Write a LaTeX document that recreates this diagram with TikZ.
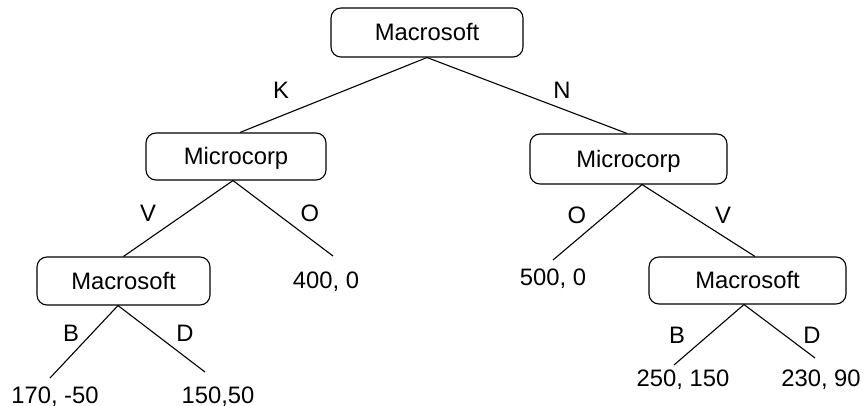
\documentclass[tikz,border=0pt]{standalone}
\usepackage{fontspec}
\setmainfont{Liberation Sans}
\begin{document}
\begin{tikzpicture}[x=0.5pt,y=-0.5pt,
  txt/.style={font=\fontsize{11.9}{14}\selectfont, text height=8.5pt, text depth=0pt, inner sep=0pt},
  player/.style={txt, draw, line width=0.55pt, rounded corners=5pt},
  leaf/.style={txt},
  branch/.style={txt},
  edge/.style={line width=0.55pt}]
\useasboundingbox (0,0) rectangle (868,406);

% decision nodes
\node[player, minimum width=96pt,   minimum height=24.5pt] (root) at (427,32.5)  {Macrosoft};
\node[player, minimum width=90pt,   minimum height=23.5pt] (lmc)  at (236,156.5) {Microcorp};
\node[player, minimum width=98.5pt, minimum height=25pt]   (rmc)  at (628.5,159) {Microcorp};
\node[player, minimum width=86.5pt, minimum height=24pt]   (lms)  at (123.5,281) {Macrosoft};
\node[player, minimum width=98.5pt, minimum height=23.5pt] (rms)  at (747.5,280.5) {Macrosoft};

% payoffs
\node[leaf] (l1) at (55,395)  {170, -50};
\node[leaf] (l2) at (218,395) {150,50};
\node[leaf] (l3) at (326,280) {400, 0};
\node[leaf] (l4) at (553,277) {500, 0};
\node[leaf] (l5) at (683,378) {250, 150};
\node[leaf] (l6) at (821,378) {230, 90};

% branches
\draw[edge] (root.south) -- ([xshift=2pt]lmc.north);
\draw[edge] (root.south) -- ([xshift=-0.75pt]rmc.north);
\draw[edge] ([xshift=-1.5pt]lmc.south) -- (lms.north);
\draw[edge] ([xshift=-1.5pt]lmc.south) -- ([xshift=3.5pt,yshift=12pt]l3.center);
\draw[edge] ([xshift=6.75pt]rmc.south) -- ([yshift=8.5pt]l4.center);
\draw[edge] ([xshift=6.75pt]rmc.south) -- ([xshift=3.75pt]rms.north);
\draw[edge] ([xshift=-2.75pt]lms.south) -- ([xshift=-2.5pt,yshift=8.5pt]l1.center);
\draw[edge] ([xshift=-2.75pt]lms.south) -- ([xshift=-6.5pt,yshift=11.5pt]l2.center);
\draw[edge] ([xshift=-1.75pt]rms.south) -- ([xshift=-4.5pt,yshift=6.5pt]l5.center);
\draw[edge] ([xshift=-1.75pt]rms.south) -- ([xshift=-3pt,yshift=10pt]l6.center);

% branch labels
\node[branch] (k)  at (281,90)  {K};
\node[branch] (n)  at (562,90)  {N};
\node[branch] (v1) at (148,213) {V};
\node[branch] (o1) at (310,213) {O};
\node[branch] (o2) at (577,215) {O};
\node[branch] (v2) at (723,215) {V};
\node[branch] (b1) at (71,333)  {B};
\node[branch] (d1) at (185,333) {D};
\node[branch] (b2) at (677,335) {B};
\node[branch] (d2) at (812,335) {D};
\end{tikzpicture}
\end{document}
